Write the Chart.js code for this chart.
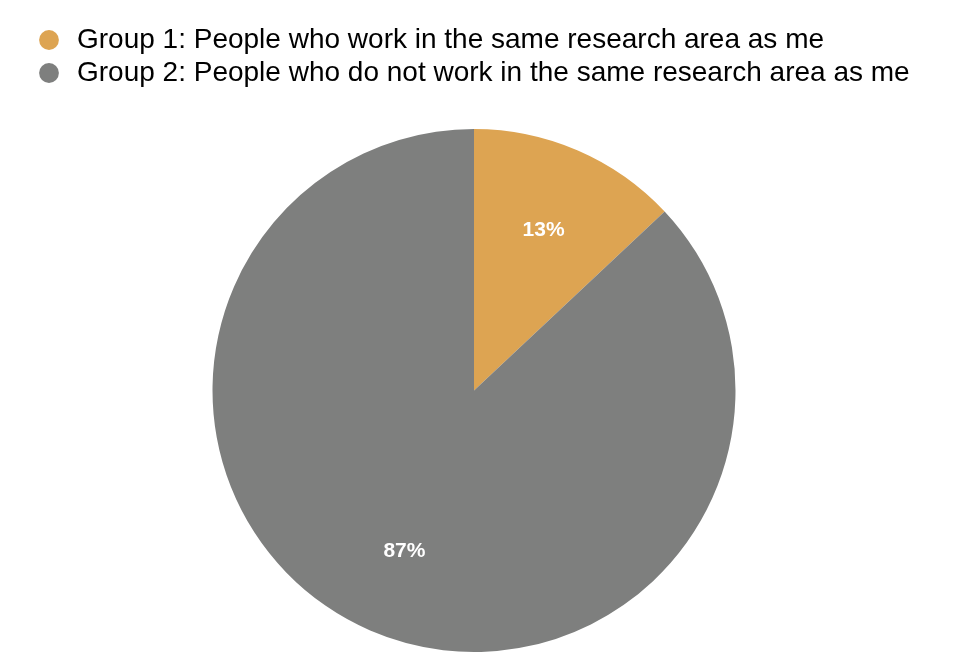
<!DOCTYPE html>
<html>
<head>
<meta charset="utf-8">
<script src="https://cdn.jsdelivr.net/npm/chart.js@4.4.0/dist/chart.umd.min.js"></script>
<style>
  html, body { margin: 0; padding: 0; background: #ffffff; }
  #wrap { width: 965px; height: 666px; }
</style>
</head>
<body>
<div id="wrap"><canvas id="pieChart"></canvas></div>
<script>
const groupLabels = [
  "Group 1: People who work in the same research area as me",
  "Group 2: People who do not work in the same research area as me"
];
const groupShares = [13, 87];
const groupColors = ["#dda452", "#7e7f7e"];

// push the pie down below the legend
const legendSpacer = {
  id: "legendSpacer",
  beforeInit(chart) {
    const originalFit = chart.legend.fit;
    chart.legend.fit = function fit() {
      originalFit.bind(chart.legend)();
      this.height += 32;
    };
  }
};

// percentage text inside each slice
const sliceLabels = {
  id: "sliceLabels",
  afterDatasetsDraw(chart) {
    const ctx = chart.ctx;
    const meta = chart.getDatasetMeta(0);
    const total = groupShares.reduce((a, b) => a + b, 0);

    ctx.save();
    ctx.font = "bold 21px 'Liberation Sans', Arial, sans-serif";
    ctx.fillStyle = "#ffffff";
    ctx.textAlign = "center";
    ctx.textBaseline = "middle";

    meta.data.forEach((arc, i) => {
      const { x, y, startAngle, endAngle, outerRadius } = arc.getProps(
        ["x", "y", "startAngle", "endAngle", "outerRadius"],
        true
      );
      const mid = (startAngle + endAngle) / 2;
      const r = outerRadius * 0.67;
      const pct = Math.round((groupShares[i] / total) * 100) + "%";
      ctx.fillText(pct, x + Math.cos(mid) * r, y + Math.sin(mid) * r);
    });

    ctx.restore();
  }
};

function renderPie() {
  const canvas = document.getElementById("pieChart");
  if (!canvas) return;

  new Chart(canvas.getContext("2d"), {
    type: "pie",
    data: {
      labels: groupLabels,
      datasets: [
        {
          data: groupShares,
          backgroundColor: groupColors,
          borderWidth: 0
        }
      ]
    },
    options: {
      responsive: true,
      maintainAspectRatio: false,
      animation: false,
      layout: {
        padding: { top: 21, left: 30, right: 47, bottom: 14 }
      },
      plugins: {
        tooltip: { enabled: false },
        legend: {
          position: "top",
          align: "start",
          labels: {
            usePointStyle: true,
            pointStyle: "circle",
            boxHeight: 14,
            padding: 5,
            color: "#000000",
            font: { family: "'Liberation Sans', Arial, sans-serif", size: 28 }
          }
        }
      }
    },
    plugins: [legendSpacer, sliceLabels]
  });
}

document.addEventListener("DOMContentLoaded", renderPie);
</script>
</body>
</html>
